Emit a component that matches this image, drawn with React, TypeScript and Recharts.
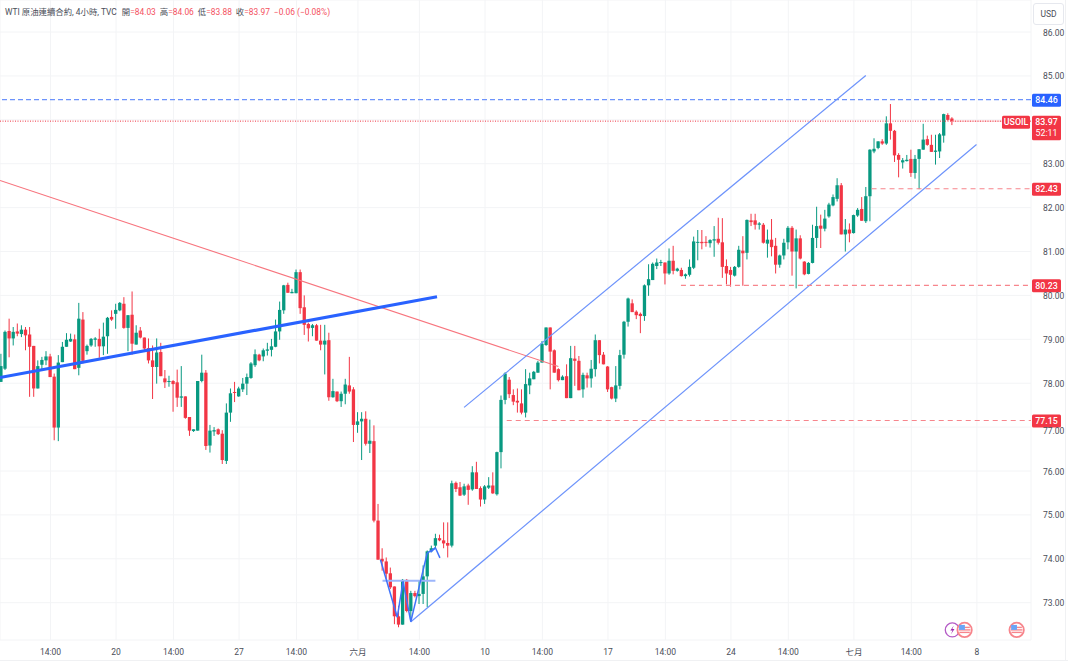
import { Bar, CartesianGrid, ComposedChart, ReferenceDot, ReferenceLine, XAxis, YAxis } from "recharts";

const opens = [
  78.03, 78.33, 79.19, 79.02, 79.18, 79.12, 79.22, 79.11, 78.85, 77.88,
  78.42, 78.52, 78.61, 78.15, 76.99, 78.48, 78.83, 78.95, 79.0, 78.35,
  79.45, 78.73, 78.86, 78.99, 79.01, 78.84, 79.07, 79.51, 79.58, 79.66,
  79.81, 79.26, 79.56, 78.88, 79.2, 79.04, 78.8, 78.52, 78.37, 78.71,
  78.11, 78.03, 78.05, 78.02, 77.67, 77.7, 77.23, 76.91, 76.92, 78.05,
  78.24, 76.58, 76.9, 76.95, 76.85, 76.23, 77.33, 77.8, 77.7, 77.86,
  77.99, 78.12, 78.41, 78.65,
  78.61, 78.74, 78.76, 78.83, 79.18, 79.66, 80.24, 80.05, 80.05, 80.53,
  79.73, 79.35, 79.26, 79.32, 78.97, 78.88, 78.98, 77.68, 77.81, 77.59,
  77.76, 77.95, 77.86, 77.05, 77.13, 77.19, 76.62, 76.68, 74.87, 74.0,
  73.94, 73.67, 73.37, 72.69, 72.5, 73.52, 72.81, 73.22, 73.15, 73.2,
  73.6, 74.17, 74.3, 74.47, 74.42, 74.36, 74.3, 75.73, 75.63, 75.46,
  75.67, 75.58, 75.97, 75.61, 75.35, 75.62, 75.67, 75.47, 76.43, 77.62,
  78.08, 77.73, 77.6, 77.54, 77.33, 77.95, 78.09, 78.24, 78.47, 78.87,
  79.27, 78.75, 78.32, 78.07, 78.16, 77.66, 78.56, 78.51, 77.86, 78.18,
  78.11, 78.32, 78.98, 78.65, 78.38, 77.91, 77.65, 77.94, 78.65, 79.4,
  79.82, 79.63, 79.58, 79.53, 80.23, 80.35, 80.67, 80.74, 80.75, 80.5,
  80.79, 80.56, 80.58, 80.44, 80.47, 80.63, 81.2, 81.22, 81.22, 81.19,
  81.25, 81.29, 81.21, 80.67, 80.58, 80.45, 80.65, 81.02, 80.97, 81.71,
  81.71, 81.61, 81.61, 81.18, 81.27, 81.13, 80.7, 80.91, 81.21, 81.54,
  81.0, 81.3, 80.77, 80.49, 80.74, 81.31, 81.59, 81.52, 81.8, 82.05,
  82.2, 82.51, 81.39, 81.5, 81.42, 81.82, 81.97, 81.69, 82.26, 83.28,
  83.36, 83.51, 83.46, 83.92, 83.75, 83.2, 83.03, 83.06, 83.11, 82.79,
  83.11, 83.32, 83.56, 83.43, 83.27, 83.28, 83.64, 84.11, 84.03,
];

const closes = [
  78.39, 79.17, 79.02, 79.17, 79.13, 79.22, 79.09, 78.83, 77.88, 78.39,
  78.53, 78.61, 78.14, 76.99, 78.47, 78.83, 78.99, 79.01, 78.32, 79.47,
  78.51, 78.85, 79.01, 79.02, 78.84, 79.06, 79.49, 79.45, 79.67, 79.83,
  79.26, 79.55, 78.9, 79.15, 79.04, 78.79, 78.52, 78.37, 78.7, 78.16,
  78.02, 78.05, 77.98, 77.67, 77.7, 77.21, 76.92, 76.95, 78.05, 78.24,
  76.57, 76.92, 76.93, 76.84, 76.25, 77.33, 77.77, 77.78, 77.88, 77.99,
  78.14, 78.45, 78.66, 78.52,
  78.75, 78.77, 78.84, 79.18, 79.67, 80.23, 80.06, 80.08, 80.53, 79.71,
  79.33, 79.25, 79.32, 78.97, 78.88, 78.97, 77.68, 77.82, 77.59, 77.76,
  77.97, 77.81, 77.05, 77.13, 77.19, 76.62, 76.69, 74.87, 73.98, 73.94,
  73.66, 73.35, 72.69, 72.5, 73.52, 72.81, 73.22, 73.15, 73.2, 73.6,
  74.17, 74.24, 74.47, 74.42, 74.35, 74.3, 75.72, 75.59, 75.44, 75.65,
  75.57, 75.97, 75.59, 75.35, 75.65, 75.67, 75.49, 76.43, 77.62, 78.22,
  77.75, 77.58, 77.56, 77.33, 77.98, 78.11, 78.26, 78.47, 78.9, 79.27,
  78.72, 78.24, 78.07, 78.15, 77.66, 78.57, 78.51, 77.84, 78.19, 78.11,
  78.33, 78.98, 78.64, 78.43, 77.86, 77.65, 77.95, 78.64, 79.4, 79.93,
  79.62, 79.55, 79.53, 80.23, 80.37, 80.72, 80.75, 80.76, 80.5, 80.79,
  80.56, 80.61, 80.44, 80.48, 80.65, 81.23, 81.22, 81.19, 81.2, 81.26,
  81.28, 81.2, 80.65, 80.5, 80.47, 80.65, 81.04, 80.96, 81.72, 81.67,
  81.61, 81.64, 81.2, 81.27, 81.1, 80.7, 80.91, 81.2, 81.54, 81.0,
  81.3, 80.84, 80.48, 80.74, 81.31, 81.58, 81.52, 81.75, 82.07, 82.24,
  82.51, 81.39, 81.5, 81.41, 81.83, 81.95, 81.7, 82.26, 83.32, 83.34,
  83.51, 83.46, 83.92, 83.75, 83.19, 83.09, 83.08, 83.09, 82.79, 83.11,
  83.33, 83.55, 83.43, 83.27, 83.3, 83.67, 84.13, 84.0, 83.97,
];

const highs = [
  78.67, 79.2, 79.47, 79.28, 79.36, 79.32, 79.28, 79.28, 78.85, 78.52,
  78.6, 78.73, 78.67, 78.22, 78.64, 78.94, 79.14, 79.13, 79.11, 79.83,
  79.62, 78.88, 79.03, 79.05, 79.24, 79.38, 79.51, 79.66, 79.81, 79.85,
  79.96, 79.55, 80.09, 79.32, 79.28, 79.04, 79.02, 78.86, 79.02, 78.92,
  78.3, 78.17, 78.07, 78.31, 78.39, 77.7, 77.23, 76.95, 78.05, 78.65,
  78.3, 77.05, 77.0, 76.97, 76.93, 77.54, 77.88, 78.03, 77.92, 78.12,
  78.22, 78.48, 78.77, 78.67,
  78.79, 78.92, 79.01, 79.45, 79.86, 80.24, 80.29, 80.15, 80.59, 80.59,
  80.0, 79.38, 79.35, 79.35, 79.33, 79.33, 79.15, 78.1, 77.81, 77.81,
  78.1, 78.6, 77.91, 77.34, 77.34, 77.36, 77.17, 77.04, 75.25, 74.24,
  74.03, 73.8, 73.37, 72.93, 73.54, 73.54, 73.27, 73.27, 73.5, 73.85,
  74.19, 74.3, 74.57, 74.55, 74.83, 74.83, 75.78, 75.76, 75.75, 75.71,
  75.71, 76.11, 76.21, 75.65, 75.68, 75.86, 75.97, 76.44, 77.72, 78.25,
  78.14, 77.86, 77.88, 77.86, 78.32, 78.24, 78.28, 78.51, 78.96, 79.27,
  79.27, 78.77, 78.34, 78.18, 78.43, 78.85, 78.85, 78.62, 78.24, 78.24,
  78.53, 79.11, 78.98, 78.71, 78.39, 77.92, 78.39, 78.76, 79.42, 79.95,
  79.91, 79.66, 79.61, 80.25, 80.71, 80.75, 80.84, 80.81, 80.75, 81.07,
  81.13, 80.63, 80.63, 80.5, 80.82, 81.34, 81.49, 81.49, 81.35, 81.28,
  81.58, 81.77, 81.76, 80.82, 80.65, 80.67, 81.13, 81.35, 81.73, 81.86,
  81.86, 81.67, 81.65, 81.5, 81.74, 81.31, 80.93, 81.29, 81.58, 81.58,
  81.5, 81.37, 80.78, 80.76, 81.61, 82.02, 81.84, 81.95, 82.11, 82.3,
  82.67, 82.56, 81.74, 81.64, 81.84, 81.99, 82.24, 82.47, 83.33, 83.58,
  83.51, 83.56, 84.08, 84.36, 83.77, 83.24, 83.13, 83.2, 83.32, 83.2,
  83.33, 83.91, 83.64, 83.66, 83.66, 83.7, 84.14, 84.15, 84.06,
];

const lows = [
  78.03, 78.3, 78.59, 78.86, 79.07, 79.05, 78.75, 77.69, 77.69, 77.88,
  78.3, 78.41, 78.14, 76.7, 76.68, 78.48, 78.83, 78.94, 78.32, 78.18,
  78.45, 78.65, 78.83, 78.83, 78.58, 78.64, 78.67, 79.42, 79.24, 79.64,
  79.24, 78.73, 78.65, 78.88, 79.02, 78.71, 78.45, 77.64, 77.99, 78.16,
  77.89, 77.92, 77.35, 77.46, 77.46, 77.19, 76.8, 76.89, 76.92, 78.02,
  76.48, 76.42, 76.8, 76.82, 76.16, 76.16, 77.12, 77.57, 77.69, 77.8,
  77.73, 78.1, 78.37, 78.5,
  78.5, 78.63, 78.61, 78.82, 78.99, 79.58, 80.06, 80.05, 80.05, 79.58,
  79.1, 78.95, 79.07, 78.97, 78.75, 78.2, 77.6, 77.67, 77.57, 77.46,
  77.52, 77.76, 76.66, 76.87, 76.25, 76.58, 76.41, 74.83, 73.98, 73.73,
  73.54, 73.31, 72.51, 72.44, 72.5, 72.78, 72.59, 73.12, 72.97, 72.97,
  72.9, 74.15, 74.24, 74.4, 74.24, 74.03, 74.26, 75.52, 75.43, 75.43,
  75.23, 75.55, 75.59, 75.19, 75.25, 75.59, 75.48, 75.44, 76.06, 77.52,
  77.66, 77.5, 77.33, 77.29, 77.22, 77.75, 78.09, 78.24, 78.47, 78.85,
  77.86, 78.24, 78.04, 78.07, 77.66, 77.66, 77.94, 77.84, 77.67, 77.9,
  77.9, 78.15, 78.45, 78.43, 77.8, 77.63, 77.57, 77.86, 78.56, 79.29,
  79.62, 79.46, 79.14, 79.42, 79.99, 80.35, 80.6, 80.67, 80.25, 80.47,
  80.48, 80.54, 80.43, 80.38, 80.43, 80.6, 80.8, 81.05, 81.11, 81.09,
  80.88, 81.16, 80.4, 80.25, 80.2, 80.43, 80.63, 80.22, 80.82, 81.58,
  81.5, 81.5, 81.18, 80.86, 80.89, 80.5, 80.63, 80.82, 81.05, 80.45,
  80.16, 80.82, 80.46, 80.48, 80.73, 81.08, 81.08, 81.46, 81.77, 82.03,
  82.14, 81.39, 81.0, 81.21, 81.41, 81.79, 81.7, 81.65, 81.69, 83.24,
  83.33, 83.43, 83.43, 83.55, 83.04, 82.69, 82.89, 83.05, 82.7, 82.66,
  82.42, 83.32, 83.41, 83.27, 82.98, 83.13, 83.48, 83.98, 83.88,
];

const xTicks = [12, 28, 42, 58, 72, 87, 102, 118, 132, 148, 162, 178, 192, 208, 222, 238];
const xLabels = ["14:00", "20", "14:00", "27", "14:00", "六月", "14:00", "10", "14:00", "17", "14:00", "24", "14:00", "七月", "14:00", "8"];
const priceTicks = [73, 74, 75, 76, 77, 78, 79, 80, 81, 82, 83, 84, 85, 86];

// trend lines as [bar, price] pairs
const redTrend = [[-0.32, 82.62], [135.9, 78.38]];
const blueTrend = [[-0.32, 78.13], [106.3, 79.97]];
const channelTop = [[112.9, 77.45], [210.9, 85.01]];
const channelBottom = [[99.85, 72.56], [237.9, 83.44]];
const zigzag = [[92.5, 73.98], [96.6, 72.67], [98, 73.48], [99.9, 72.57], [103.9, 74.13], [105.9, 74.25]];
const arrowLeft = [[104.7, 74.15], [105.9, 74.25]];
const arrowRight = [[105.9, 74.25], [107, 74.02]];
const neckline = [[93, 73.5], [105.9, 73.5]];
// support levels: [start bar, price]
const supports = [[212.3, 82.43], [165.8, 80.23], [123.3, 77.15]];

const BAR_MIN = -0.32;
const BAR_MAX = 251.2;
const UP = "#089981";
const DOWN = "#f23645";
const SOFT_RED = "#f4505d";
const TEXT = "#4a4e59";
const FONT = 'Roboto, "Noto Sans CJK TC", sans-serif';

const data = opens.map((open, index) => ({
  index,
  open,
  close: closes[index],
  high: highs[index],
  low: lows[index],
  range: [lows[index], highs[index]],
}));

function Candle(props: any) {
  const { x, y, width, height, payload } = props;
  const unit = height / (payload.high - payload.low || 1);
  const top = y + (payload.high - Math.max(payload.open, payload.close)) * unit;
  const bottom = y + (payload.high - Math.min(payload.open, payload.close)) * unit;
  const color = payload.close >= payload.open ? UP : DOWN;
  const mid = x + width / 2;
  return (
    <g>
      <line x1={mid} x2={mid} y1={y} y2={y + height} stroke={color} strokeWidth={1} />
      <rect x={x} y={top} width={width} height={Math.max(bottom - top, 1)} fill={color} />
    </g>
  );
}

// the 77.00 label sits just under the 77.15 tag, as in the original
function PriceTick({ x, y, payload }: any) {
  if (payload.value === 84) return null;
  const shift = payload.value === 77 ? 3 : 0;
  return (
    <text x={x + 1} y={y + shift + 3.5} fill={TEXT} fontSize={8.5} fontFamily={FONT}>
      {payload.value.toFixed(2)}
    </text>
  );
}

function PriceTag({ cx, cy, text, color }: any) {
  return (
    <g>
      <rect x={cx + 1} y={cy - 6} width={29} height={13} rx={1.5} fill={color} />
      <text x={cx + 15.5} y={cy + 3.5} textAnchor="middle" fontSize={8.8} fontWeight={500} fontFamily={FONT} fill="#fff">
        {text}
      </text>
    </g>
  );
}

function LastPriceTag({ cx, cy }: any) {
  return (
    <g fontFamily={FONT} fontSize={8.8} fill="#fff" textAnchor="middle">
      <rect x={cx + 1} y={cy - 5.5} width={29} height={24.5} rx={1.5} fill={DOWN} />
      <rect x={cx - 29} y={cy - 5.5} width={28} height={13} rx={1.5} fill={DOWN} />
      <text x={cx + 15.5} y={cy + 3.5} fontWeight={500}>83.97</text>
      <text x={cx + 15.5} y={cy + 15}>52:11</text>
      <text x={cx - 15} y={cy + 3.5} fontWeight={500}>USOIL</text>
    </g>
  );
}

function FlagIcon({ cx, cy }: any) {
  return (
    <g>
      <circle cx={cx} cy={cy} r={7.2} fill="#fff" stroke="#f7858c" strokeWidth={1.8} />
      <line x1={cx - 5.2} x2={cx + 5.2} y1={cy - 2.5} y2={cy - 2.5} stroke="#f7858c" strokeWidth={1.4} />
      <line x1={cx - 5.8} x2={cx + 5.8} y1={cy} y2={cy} stroke="#f7858c" strokeWidth={1.4} />
      <line x1={cx - 5.2} x2={cx + 5.2} y1={cy + 2.5} y2={cy + 2.5} stroke="#f7858c" strokeWidth={1.4} />
      <rect x={cx - 5.5} y={cy - 5} width={5.8} height={5} fill="#6aa5f7" />
    </g>
  );
}

function EventIcon({ cx, cy }: any) {
  return (
    <g>
      <circle cx={cx} cy={cy} r={7} fill="#fff" stroke="#b45bc6" strokeWidth={1.3} />
      <path d={`M${cx + 1.5} ${cy - 4.5}L${cx - 2} ${cy + 0.5}L${cx + 0.3} ${cy + 0.5}L${cx - 1.5} ${cy + 4.5}L${cx + 2.2} ${cy - 1}L${cx} ${cy - 1}Z`} fill="#9c27b0" />
    </g>
  );
}

function segmentLine(points: number[][], stroke: string, strokeWidth: number, key: string) {
  return points.slice(1).map((point, i) => (
    <ReferenceLine
      key={`${key}-${i}`}
      segment={[
        { x: points[i][0], y: points[i][1] },
        { x: point[0], y: point[1] },
      ]}
      stroke={stroke}
      strokeWidth={strokeWidth}
      ifOverflow="visible"
    />
  ));
}

export default function App() {
  return (
    <div style={{ position: "absolute", left: 0, top: 0, width: 1068, height: 662, background: "#fff", overflow: "hidden" }}>
      <ComposedChart width={1068} height={662} data={data} margin={{ top: 0, right: 0, bottom: 0, left: 0 }}>
        <CartesianGrid stroke="#f3f4f6" />
        <XAxis
          dataKey="index"
          type="number"
          scale="linear"
          domain={[BAR_MIN, BAR_MAX]}
          ticks={xTicks}
          interval={0}
          height={22}
          tickLine={false}
          axisLine={false}
          tickMargin={3}
          tick={{ fill: TEXT, fontSize: 8.5, fontFamily: FONT }}
          tickFormatter={(value) => xLabels[xTicks.indexOf(value)]}
        />
        <YAxis
          orientation="right"
          type="number"
          width={37}
          domain={[72.15, 86.73]}
          ticks={priceTicks}
          interval={0}
          tickLine={false}
          axisLine={false}
          tickMargin={5}
          tick={<PriceTick />}
        />
        <Bar dataKey="range" barSize={3.3} shape={<Candle />} isAnimationActive={false} />

        {segmentLine(redTrend, "#f7757e", 1.1, "red")}
        {segmentLine(channelTop, "#6d93fb", 1.2, "top")}
        {segmentLine(channelBottom, "#6d93fb", 1.2, "bottom")}
        {segmentLine(blueTrend, "#2962ff", 3.2, "thick")}
        {segmentLine(neckline, "#9db6fb", 1.8, "neck")}
        {segmentLine(zigzag, "#3f72fa", 1.5, "zig")}
        {segmentLine(arrowLeft, "#3f72fa", 1.5, "arrowL")}
        {segmentLine(arrowRight, "#3f72fa", 1.5, "arrowR")}

        <ReferenceLine y={84.46} stroke="#6d93fb" strokeWidth={1.2} strokeDasharray="5 3" />
        <ReferenceLine segment={[{ x: 232, y: 83.97 }, { x: 244.3, y: 83.97 }]} stroke="#fbc4c8" ifOverflow="visible" />
        <ReferenceLine y={83.97} stroke="#f23645" strokeDasharray="1 1.5" />
        {supports.map(([start, price]) => (
          <ReferenceLine
            key={price}
            segment={[{ x: start, y: price }, { x: BAR_MAX, y: price }]}
            stroke="#f7858c"
            strokeWidth={1.2}
            strokeDasharray="5 4"
            ifOverflow="visible"
          />
        ))}

        <ReferenceDot x={BAR_MAX} y={84.46} r={0} ifOverflow="visible" shape={(p: any) => <PriceTag {...p} text="84.46" color="#2962ff" />} />
        <ReferenceDot x={BAR_MAX} y={83.97} r={0} ifOverflow="visible" shape={(p: any) => <LastPriceTag {...p} />} />
        {supports.map(([, price]) => (
          <ReferenceDot key={price} x={BAR_MAX} y={price} r={0} ifOverflow="visible" shape={(p: any) => <PriceTag {...p} text={price.toFixed(2)} color={DOWN} />} />
        ))}

        <ReferenceDot x={232} y={72.38} r={0} ifOverflow="visible" shape={(p: any) => <EventIcon {...p} />} />
        <ReferenceDot x={235} y={72.38} r={0} ifOverflow="visible" shape={(p: any) => <FlagIcon {...p} />} />
        <ReferenceDot x={247.7} y={72.38} r={0} ifOverflow="visible" shape={(p: any) => <FlagIcon {...p} />} />
      </ComposedChart>

      <div style={{ position: "absolute", left: 5, top: 5, fontFamily: FONT, fontSize: 8.4, lineHeight: "14px", whiteSpace: "nowrap", color: TEXT }}>
        WTI 原油連續合約, 4小時, TVC
        <span style={{ marginLeft: 5 }}>開</span><span style={{ color: SOFT_RED }}>=84.03</span>
        <span style={{ marginLeft: 4 }}>高</span><span style={{ color: SOFT_RED }}>=84.06</span>
        <span style={{ marginLeft: 4 }}>低</span><span style={{ color: SOFT_RED }}>=83.88</span>
        <span style={{ marginLeft: 4 }}>收</span><span style={{ color: SOFT_RED }}>=83.97</span>
        <span style={{ marginLeft: 4, color: SOFT_RED }}>−0.06 (−0.08%)</span>
      </div>
      <div style={{ position: "absolute", left: 1033, top: 3, width: 29, height: 20, border: "1px solid #e6e8ee", borderRadius: 3, fontFamily: FONT, fontSize: 8.5, lineHeight: "20px", textAlign: "center", color: TEXT }}>
        USD
      </div>
      <div style={{ position: "absolute", left: 0, top: 660, width: 1068, height: 1, background: "#f0f1f3" }} />
      <div style={{ position: "absolute", left: 1065, top: 0, width: 1, height: 661, background: "#f0f1f3" }} />
    </div>
  );
}
